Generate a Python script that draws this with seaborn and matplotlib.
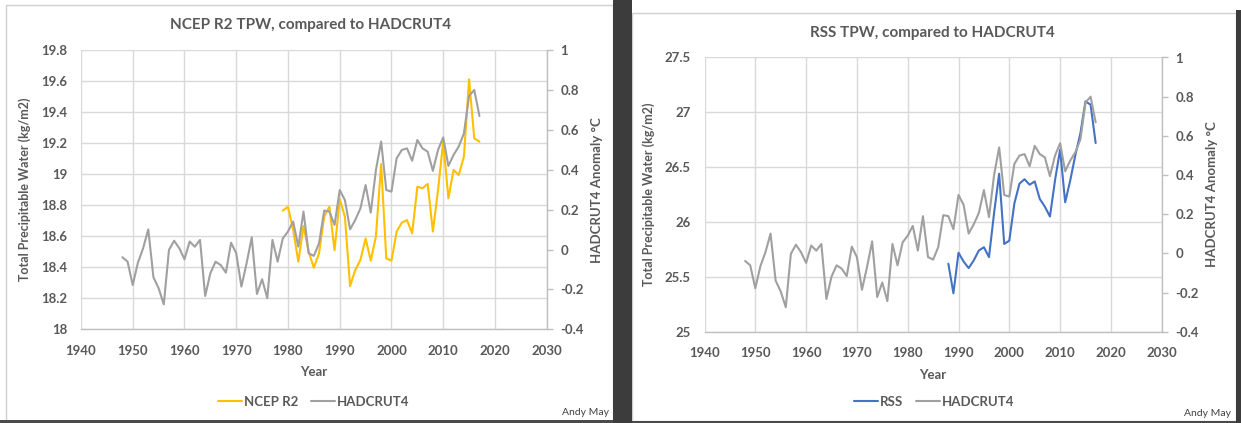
import numpy as np
import matplotlib
matplotlib.use("Agg")
import matplotlib.pyplot as plt
from matplotlib.patches import Rectangle
from matplotlib.ticker import FixedLocator, FuncFormatter
import seaborn as sns

# ---- data -------------------------------------------------------------
years_had = list(range(1948, 2018))
hadcrut4 = [-0.039, -0.061, -0.178, -0.066, 0.006, 0.101, -0.139, -0.194, -0.275, -0.002,
            0.044, 0.006, -0.049, 0.040, 0.014, 0.048, -0.233, -0.119, -0.061, -0.078,
            -0.116, 0.034, -0.019, -0.186, -0.069, 0.061, -0.223, -0.149, -0.244, 0.048,
            -0.061, 0.056, 0.090, 0.140, 0.014, 0.190, -0.019, -0.032, 0.031, 0.195,
            0.190, 0.123, 0.298, 0.248, 0.101, 0.148, 0.206, 0.323, 0.185, 0.399,
            0.541, 0.298, 0.290, 0.457, 0.499, 0.507, 0.445, 0.549, 0.507, 0.490,
            0.394, 0.499, 0.562, 0.419, 0.474, 0.516, 0.582, 0.770, 0.800, 0.669]

years_ncep = list(range(1979, 2018))
ncep_r2 = [18.765, 18.79, 18.64, 18.436, 18.666, 18.50, 18.397, 18.49, 18.726, 18.79,
           18.51, 18.838, 18.726, 18.279, 18.382, 18.447, 18.586, 18.442, 18.60, 19.065,
           18.457, 18.442, 18.63, 18.687, 18.704, 18.618, 18.919, 18.909, 18.937, 18.63,
           18.898, 19.209, 18.844, 19.027, 18.994, 19.113, 19.611, 19.231, 19.209]

years_rss = list(range(1988, 2018))
rss = [25.62, 25.35, 25.72, 25.64, 25.58, 25.65, 25.74, 25.77, 25.68, 26.08,
       26.44, 25.80, 25.83, 26.17, 26.35, 26.39, 26.34, 26.37, 26.21, 26.14,
       26.05, 26.38, 26.66, 26.18, 26.38, 26.61, 26.81, 27.10, 27.07, 26.72]

year_ticks = list(range(1940, 2031, 10))
ncep_ticks = [18.0, 18.2, 18.4, 18.6, 18.8, 19.0, 19.2, 19.4, 19.6, 19.8]
rss_ticks = [25.0, 25.5, 26.0, 26.5, 27.0, 27.5]
anom_ticks = [-0.4, -0.2, 0.0, 0.2, 0.4, 0.6, 0.8, 1.0]

# ---- style ------------------------------------------------------------
sns.set_theme(style="white")
plt.rcParams["font.family"] = ["Lato", "DejaVu Sans"]

TEXT = "#595959"
GRID = "#D9D9D9"
AXIS = "#BFBFBF"
GRAY = "#A0A0A0"
GOLD = "#FFC000"
BLUE = "#4472C4"

W, H = 1241, 423
fig = plt.figure(figsize=(W / 100, H / 100), dpi=100)
fig.patch.set_facecolor("white")


def px_rect(x0, y0, x1, y1, **kw):
    """Background rectangle given in pixels from the top-left corner."""
    r = Rectangle((x0 / W, 1 - y1 / H), (x1 - x0) / W, (y1 - y0) / H,
                  transform=fig.transFigure, zorder=-10, **kw)
    fig.patches.append(r)


# card frames and the dark strips around them
px_rect(6, 5, 613, 421, facecolor="white", edgecolor="#CFCFCF", lw=1.0)
px_rect(632, 13, 1236, 421, facecolor="white", edgecolor="#CFCFCF", lw=1.0)
px_rect(613, 0, 632, H, facecolor="#3C3C3C", edgecolor="none")
px_rect(1236, 10, W, H, facecolor="#3C3C3C", edgecolor="none")
px_rect(0, 420, 613, H, facecolor="#4A4A4A", edgecolor="none")
px_rect(632, 421, 1236, H, facecolor="#4A4A4A", edgecolor="none")

fmt = FuncFormatter(lambda v, _: f"{round(v, 2):g}")
tick_font = dict(family=["Lato", "DejaVu Sans"], weight="bold", size=9.5)


def panel(box, series_years, series_vals, color, name, yticks,
          title, title_xy, legend_xy, credit_xy):
    x0, y0, x1, y1 = box
    ax = fig.add_axes([x0 / W, 1 - y1 / H, (x1 - x0) / W, (y1 - y0) / H])
    ax.set_facecolor("none")
    sns.lineplot(x=series_years, y=series_vals, ax=ax, color=color, lw=1.5,
                 label=name, legend=False)
    ax.set_xlim(1940, 2030)
    ax.set_ylim(yticks[0], yticks[-1])
    ax.xaxis.set_major_locator(FixedLocator(year_ticks))
    ax.yaxis.set_major_locator(FixedLocator(yticks))
    ax.yaxis.set_major_formatter(fmt)
    ax.grid(True, color=GRID, lw=1.0)
    for s in ("top", "left", "right"):
        ax.spines[s].set_visible(False)
    ax.spines["bottom"].set_color(AXIS)
    ax.spines["bottom"].set_linewidth(1.0)
    ax.tick_params(axis="both", length=0, colors=TEXT)
    ax.tick_params(axis="x", pad=11)
    ax.tick_params(axis="y", pad=10)
    for lab in ax.get_xticklabels() + ax.get_yticklabels():
        lab.set_fontproperties(tick_font)
        lab.set_color(TEXT)
    ax.set_xlabel("Year", color=TEXT, fontsize=9.5, fontweight="bold", labelpad=7)
    ax.set_ylabel("Total Precipitable Water (kg/m2)", color=TEXT, fontsize=9,
                  fontweight="bold", labelpad=7)

    ax2 = ax.twinx()
    sns.lineplot(x=years_had, y=hadcrut4, ax=ax2, color=GRAY, lw=1.5,
                 label="HADCRUT4", legend=False)
    ax2.set_ylim(-0.4, 1.0)
    ax2.yaxis.set_major_locator(FixedLocator(anom_ticks))
    ax2.yaxis.set_major_formatter(fmt)
    ax2.grid(False)
    for s in ("top", "left", "bottom"):
        ax2.spines[s].set_visible(False)
    ax2.spines["right"].set_color(AXIS)
    ax2.spines["right"].set_linewidth(1.0)
    ax2.tick_params(axis="y", length=4, width=1.0, color=AXIS, labelcolor=TEXT, pad=6)
    for lab in ax2.get_yticklabels():
        lab.set_fontproperties(tick_font)
        lab.set_color(TEXT)
    ax2.set_ylabel("HADCRUT4 Anomaly °C", color=TEXT, fontsize=9.5,
                   fontweight="bold", labelpad=5)

    fig.text(title_xy[0] / W, 1 - title_xy[1] / H, title, ha="center", va="center",
             color=TEXT, fontsize=11, fontweight="bold")

    handles = ax.get_lines()[:1] + ax2.get_lines()[:1]
    fig.legend(handles, [name, "HADCRUT4"], loc="center",
               bbox_to_anchor=(legend_xy[0] / W, 1 - legend_xy[1] / H),
               ncol=2, frameon=False, handlelength=1.8, handletextpad=0.15,
               columnspacing=1.0, labelcolor=TEXT,
               prop=dict(family=["Lato", "DejaVu Sans"], weight="bold", size=9.5))

    fig.text(credit_xy[0] / W, 1 - credit_xy[1] / H, "Andy May", ha="right",
             va="center", color="#404040", fontsize=7.5)
    return ax, ax2


panel((81, 50, 546.7, 329.3), years_ncep, ncep_r2, GOLD, "NCEP R2", ncep_ticks,
      "NCEP R2 TPW, compared to HADCRUT4", (311, 25), (314, 402), (609, 412))
panel((704.5, 57.5, 1161.7, 331.7), years_rss, rss, BLUE, "RSS", rss_ticks,
      "RSS TPW, compared to HADCRUT4", (932, 33), (934, 402), (1231, 413))

fig.savefig("out.png", dpi=100, facecolor=fig.get_facecolor())
